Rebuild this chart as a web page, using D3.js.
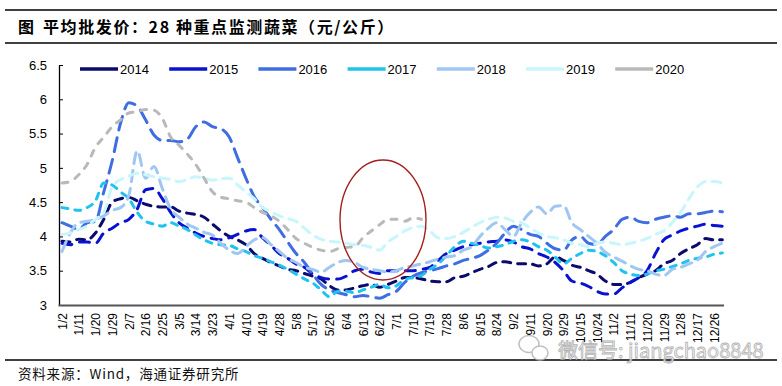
<!DOCTYPE html>
<html><head><meta charset="utf-8">
<script src="https://cdn.jsdelivr.net/npm/d3@7"></script>
<style>
html,body{margin:0;padding:0;background:#fff;}
svg{display:block;}
</style></head>
<body>
<svg id="c" width="782" height="386"></svg>
<script>
// ---- data ----
const tickLabels = ["1/2","1/11","1/20","1/29","2/7","2/16","2/25","3/5","3/14","3/23","4/1","4/10","4/19","4/28","5/8","5/17","5/26","6/4","6/13","6/22","7/1","7/10","7/19","7/28","8/6","8/15","8/24","9/2","9/11","9/20","9/29","10/15","10/24","11/2","11/11","11/20","11/29","12/8","12/17","12/26"];
const yTicks = [3, 3.5, 4, 4.5, 5, 5.5, 6, 6.5];
const years = ["2014","2015","2016","2017","2018","2019","2020"];
// values sampled every half tick interval (index 0, 0.5, 1, ...)
const s2014 = [3.93,3.92,3.96,3.95,4.05,4.25,4.5,4.55,4.57,4.52, 4.47,4.44,4.43,4.43,4.37,4.34,4.32,4.28,4.18,4.08, 4.0,3.95,3.88,3.75,3.68,3.62,3.57,3.52,3.5,3.46, 3.42,3.38,3.28,3.22,3.22,3.25,3.28,3.3,3.26,3.3, 3.35,3.4,3.4,3.38,3.35,3.34,3.34,3.4,3.42,3.47, 3.52,3.56,3.62,3.63,3.61,3.6,3.6,3.57,3.6,3.7, 3.65,3.58,3.55,3.5,3.45,3.35,3.3,3.3,3.33,3.4, 3.45,3.5,3.6,3.65,3.75,3.82,3.88,3.97,3.95,3.95];
const s2015 = [3.9,3.88,3.92,3.92,3.9,4.05,4.12,4.2,4.25,4.4, 4.68,4.7,4.55,4.35,4.2,4.12,4.05,4.0,3.97,3.95, 3.98,4.03,4.08,4.1,3.98,3.87,3.75,3.68,3.6,3.55, 3.45,3.4,3.38,3.38,3.42,3.5,3.52,3.48,3.46,3.5, 3.5,3.5,3.5,3.52,3.55,3.65,3.75,3.8,3.85,3.88, 3.9,3.92,3.93,3.95,3.92,3.85,3.82,3.75,3.7,3.62, 3.5,3.35,3.32,3.27,3.2,3.16,3.16,3.25,3.33,3.4, 3.5,3.75,3.95,4.02,4.08,4.12,4.15,4.18,4.16,4.15];
const s2016 = [4.2,4.15,4.1,4.2,4.22,4.65,5.1,5.65,5.95,5.9, 5.7,5.48,5.4,5.4,5.38,5.42,5.6,5.67,5.6,5.57, 5.45,5.15,4.85,4.58,4.42,4.25,4.1,3.92,3.75,3.62, 3.45,3.3,3.22,3.18,3.15,3.12,3.14,3.12,3.1,3.15, 3.2,3.33,3.42,3.47,3.5,3.53,3.57,3.6,3.65,3.68, 3.72,3.8,3.9,4.05,4.15,4.1,4.03,4.0,3.9,3.82, 3.8,3.95,4.0,3.9,3.88,4.0,4.1,4.25,4.28,4.22, 4.2,4.25,4.28,4.3,4.28,4.33,4.33,4.35,4.37,4.36];
const s2017 = [4.42,4.4,4.38,4.42,4.52,4.78,4.75,4.65,4.55,4.35, 4.22,4.18,4.15,4.2,4.15,4.1,4.02,3.95,3.9,3.88, 3.87,3.82,3.78,3.72,3.68,3.63,3.58,3.52,3.45,3.38, 3.32,3.22,3.12,3.2,3.2,3.18,3.22,3.26,3.3,3.25, 3.28,3.37,3.4,3.43,3.52,3.6,3.72,3.85,3.93,3.9, 3.87,3.83,3.85,3.88,3.93,3.95,3.92,3.85,3.8,3.7, 3.6,3.68,3.75,3.8,3.78,3.72,3.62,3.5,3.45,3.43, 3.45,3.5,3.52,3.56,3.6,3.65,3.68,3.7,3.74,3.76];
const s2018 = [3.78,4.05,4.2,4.22,4.25,4.3,4.38,4.42,4.6,5.25, 4.85,5.02,4.7,4.4,4.28,4.18,4.12,4.06,4.02,3.9, 3.8,3.75,3.85,3.95,3.98,3.88,3.78,3.68,3.62,3.55, 3.52,3.48,3.55,3.62,3.65,3.62,3.55,3.52,3.5,3.48, 3.5,3.55,3.57,3.6,3.63,3.67,3.7,3.72,3.8,3.85, 4.0,4.12,4.2,4.1,4.0,4.2,4.35,4.43,4.33,4.44, 4.45,4.2,4.1,4.0,3.9,3.77,3.7,3.64,3.57,3.52, 3.5,3.45,3.43,3.52,3.55,3.6,3.65,3.78,3.85,3.9];
const s2019 = [4.03,4.05,4.1,4.15,4.25,4.35,4.72,4.83,4.88,4.92, 4.9,4.87,4.85,4.83,4.8,4.83,4.87,4.85,4.82,4.84, 4.85,4.75,4.65,4.55,4.42,4.36,4.3,4.26,4.22,4.12, 4.02,3.96,3.93,3.92,3.9,3.88,3.87,3.84,3.8,3.92, 4.0,4.08,4.13,4.15,4.08,3.98,3.97,4.0,4.06,4.13, 4.2,4.25,4.28,4.27,4.22,4.2,4.12,4.05,4.0,3.98, 3.95,3.9,3.88,3.85,3.9,3.92,3.9,3.88,3.9,3.93, 3.97,4.03,4.08,4.2,4.35,4.55,4.72,4.8,4.8,4.78];
const s2020 = [4.78,4.8,4.9,5.05,5.3,5.45,5.6,5.7,5.8,5.82, 5.85,5.84,5.72,5.45,5.33,5.2,5.05,4.85,4.65,4.57, 4.55,4.52,4.5,4.42,4.35,4.3,4.22,4.1,3.97,3.9, 3.84,3.8,3.78,3.82,3.84,3.85,3.98,4.08,4.17,4.25, 4.25,4.22,4.27,4.25];

const seriesValues = [s2014, s2015, s2016, s2017, s2018, s2019, s2020];
const colors = ["#0b0b6e", "#0a12d2", "#3f6de2", "#1fc3ef", "#9fc7f2", "#c8f6fd", "#b9b9b9"];
const dashes = ["8,7", "10,8", "14,8", "6,7", "11,7", "9,7", "6,8"];

// ---- drawing ----
const svg = d3.select("#c");
const x = d3.scaleLinear().domain([0, tickLabels.length - 1]).range([62, 714]);
const xp = d3.scalePoint().domain(tickLabels).range([62, 714]);
const y = d3.scaleLinear().domain([3, 6.5]).range([305, 65]);

// rules
svg.append("line").attr("x1", 5).attr("x2", 777).attr("y1", 10).attr("y2", 10).attr("stroke", "#000").attr("stroke-width", 1.3);
svg.append("line").attr("x1", 5).attr("x2", 777).attr("y1", 43).attr("y2", 43).attr("stroke", "#000").attr("stroke-width", 1.3);
svg.append("line").attr("x1", 5).attr("x2", 777).attr("y1", 360).attr("y2", 360).attr("stroke", "#000").attr("stroke-width", 1.3);

// title
const tfont = "'Noto Sans CJK SC', 'Noto Sans', sans-serif";
svg.append("text").attr("x", 18).attr("y", 33).attr("font-family", tfont).attr("font-weight", "bold").attr("font-size", 16).text("图");
svg.append("text").attr("x", 43).attr("y", 33).attr("font-family", tfont).attr("font-weight", "bold").attr("font-size", 16)
  .attr("letter-spacing", 1.6).text("平均批发价：28 种重点监测蔬菜（元/公斤）");

// source
svg.append("text").attr("x", 18).attr("y", 379).attr("font-family", tfont).attr("font-size", 13.5).attr("fill", "#111")
  .attr("letter-spacing", 0.8).text("资料来源：Wind，海通证券研究所");

// watermark
const wm = svg.append("g").attr("opacity", 0.85);
wm.append("ellipse").attr("cx", 529).attr("cy", 344).attr("rx", 10).attr("ry", 8.5).attr("fill", "none").attr("stroke", "#b5b5b5").attr("stroke-width", 1.5);
wm.append("ellipse").attr("cx", 540).attr("cy", 353).attr("rx", 8).attr("ry", 7).attr("fill", "#fff").attr("stroke", "#b5b5b5").attr("stroke-width", 1.5);
wm.append("text").attr("x", 558).attr("y", 358).attr("font-family", tfont).attr("font-size", 20)
  .attr("fill", "#f2f2f2").attr("stroke", "#a8a8a8").attr("stroke-width", 0.8).text("微信号: jiangchao8848");

// y axis
const yAxis = d3.axisLeft(y).tickValues(yTicks).tickSizeInner(-4).tickSizeOuter(0).tickPadding(12).tickFormat(d => String(d));
const gy = svg.append("g").attr("transform", "translate(59,0)").call(yAxis);
gy.select(".domain").attr("stroke", "#000").attr("stroke-width", 1.3);
gy.selectAll(".tick line").attr("stroke", "#000");
gy.selectAll("text").attr("font-family", "'Liberation Sans', Arial, sans-serif").attr("font-size", 13).attr("fill", "#000");

// x axis
const xAxis = d3.axisBottom(xp).tickSize(0).tickPadding(0);
const gx = svg.append("g").attr("transform", "translate(0,305)").call(xAxis);
gx.select(".domain").remove();
gx.selectAll("text")
  .attr("font-family", "'Liberation Sans', Arial, sans-serif").attr("font-size", 12).attr("fill", "#000")
  .attr("text-anchor", "end").attr("transform", "rotate(-90)")
  .attr("x", -8).attr("y", 0).attr("dy", "0.35em");

// lines
const line = d3.line().defined(d => d != null).x((d, i) => x(i / 2)).y(d => y(d)).curve(d3.curveMonotoneX);
seriesValues.forEach((vals, k) => {
  svg.append("path").datum(vals).attr("d", line)
    .attr("fill", "none").attr("stroke", colors[k]).attr("stroke-width", 3)
    .attr("stroke-dasharray", dashes[k]).attr("stroke-linecap", "round").attr("stroke-linejoin", "round");
});
svg.append("line").attr("x1", 58.5).attr("x2", x(39.6)).attr("y1", 305.5).attr("y2", 305.5).attr("stroke", "#555").attr("stroke-width", 2.2);

// legend
years.forEach((yr, k) => {
  const lx = 80 + 89.2 * k;
  svg.append("line").attr("x1", lx).attr("x2", lx + 38).attr("y1", 69).attr("y2", 69).attr("stroke", colors[k]).attr("stroke-width", 3.5);
  svg.append("text").attr("x", lx + 40).attr("y", 74).attr("font-family", "'Liberation Sans', Arial, sans-serif").attr("font-size", 13).attr("fill", "#000").text(yr);
});

// annotation ellipse around the 2020 June-July segment
svg.append("ellipse").attr("cx", x(19.2)).attr("cy", y(4.24)).attr("rx", 43).attr("ry", 60)
  .attr("fill", "none").attr("stroke", "#a3201f").attr("stroke-width", 1.4);
</script>
</body></html>
